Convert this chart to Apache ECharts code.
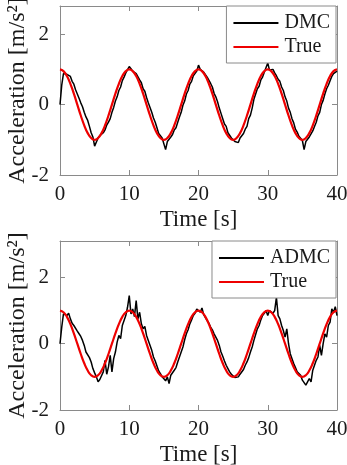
<!DOCTYPE html>
<html>
<head>
<meta charset="utf-8">
<title>DMC / ADMC acceleration</title>
<script src="https://cdn.jsdelivr.net/npm/echarts@6/dist/echarts.min.js"></script>
<style>
  html, body { margin: 0; padding: 0; background: #fff; }
  #chart { width: 347px; height: 465px; }
</style>
</head>
<body>
<div id="chart"></div>
<script>
/* =========================================
   1. DATA
   ========================================= */
// noisy estimates are sampled every 0.25 s, the true signal every 0.5 s
const ESTIMATE_STEP = 0.25;
const TRUE_STEP = 0.5;

const timeTicks = [0, 10, 20, 30, 40];
const accelTicks = [-2, 0, 2];

const dmcValues = [
  0.00, 0.55, 0.88, 0.93, 0.86, 0.90, 0.80, 0.66, 0.58, 0.42, 0.30, 0.18, 0.05, -0.06, -0.22, -0.35, -0.45, -0.62, -0.80, -0.92,
  -1.18, -1.22, -0.95, -0.88, -0.92, -0.80, -0.72, -0.58, -0.50, -0.40, -0.22, -0.08, 0.10, 0.22, 0.40, 0.50, 0.68, 0.78, 0.90, 0.92,
  1.08, 1.02, 0.95, 0.98, 0.88, 0.85, 0.70, 0.62, 0.45, 0.38, 0.20, 0.05, -0.08, -0.22, -0.38, -0.50, -0.66, -0.82, -0.85, -0.95,
  -0.90, -1.28, -1.05, -1.00, -0.92, -0.85, -0.72, -0.66, -0.50, -0.35, -0.22, -0.02, 0.10, 0.30, 0.40, 0.58, 0.66, 0.82, 0.85, 0.95,
  1.12, 1.00, 1.02, 0.92, 0.90, 0.78, 0.75, 0.60, 0.50, 0.32, 0.22, 0.08, -0.10, -0.25, -0.40, -0.55, -0.62, -0.80, -0.85, -0.95,
  -0.92, -1.05, -1.10, -1.08, -0.95, -0.90, -0.82, -0.70, -0.62, -0.40, -0.30, -0.10, 0.15, 0.30, 0.45, 0.52, 0.70, 0.78, 0.92, 0.95,
  1.18, 0.98, 0.95, 1.00, 0.90, 0.82, 0.72, 0.66, 0.50, 0.40, 0.22, 0.10, -0.10, -0.22, -0.40, -0.52, -0.70, -0.78, -0.90, -0.95,
  -1.02, -1.28, -1.05, -1.08, -0.92, -0.88, -0.75, -0.62, -0.50, -0.32, -0.22, 0.00, 0.12, 0.30, 0.45, 0.55, 0.68, 0.80, 0.88, 0.92,
  0.95
];

const admcValues = [
  0.00, 0.50, 0.90, 0.95, 0.85, 0.92, 0.75, 0.62, 0.55, 0.50, 0.38, 0.30, 0.22, 0.10, -0.05, -0.25, -0.30, -0.42, -0.55, -0.75,
  -0.88, -1.00, -1.15, -1.08, -1.12, -0.85, -0.50, -0.92, -0.70, -0.35, -0.85, -0.45, -0.25, 0.05, 0.25, 0.15, 0.55, 0.70, 0.85, 1.10,
  1.45, 0.90, 1.05, 0.82, 1.30, 0.75, 0.95, 0.60, 0.45, 0.52, 0.25, 0.10, 0.05, -0.20, -0.40, -0.52, -0.55, -0.82, -0.90, -1.00,
  -0.95, -1.12, -1.00, -1.20, -0.95, -0.92, -0.80, -0.72, -0.55, -0.40, -0.25, -0.10, 0.12, 0.30, 0.42, 0.60, 0.72, 0.85, 0.92, 1.05,
  1.10, 0.95, 1.08, 0.88, 0.85, 0.70, 0.62, 0.50, 0.42, 0.30, 0.25, 0.10, -0.05, -0.25, -0.38, -0.52, -0.65, -0.75, -0.85, -0.92,
  -0.98, -1.02, -1.05, -1.00, -0.92, -0.90, -0.78, -0.65, -0.55, -0.42, -0.25, -0.10, 0.10, 0.28, 0.45, 0.55, 0.72, 0.85, 0.92, 1.00,
  0.85, 1.00, 1.05, 0.92, 1.00, 1.40, 0.85, 0.75, 0.55, 0.40, 0.20, 0.45, 0.00, -0.30, -0.45, -0.60, -0.72, -0.85, -0.80, -0.95,
  -1.10, -1.05, -1.25, -1.15, -1.05, -1.15, -0.80, -0.65, -0.50, -0.40, -0.05, -0.35, 0.00, 0.30, 0.20, 0.55, 0.65, 1.05, 0.95, 1.12,
  0.85
];

const trueValues = [
  1.00, 0.95, 0.81, 0.59, 0.31, 0.00, -0.31, -0.59, -0.81, -0.95, -1.00, -0.95, -0.81, -0.59, -0.31, 0.00, 0.31, 0.59, 0.81, 0.95,
  1.00, 0.95, 0.81, 0.59, 0.31, 0.00, -0.31, -0.59, -0.81, -0.95, -1.00, -0.95, -0.81, -0.59, -0.31, 0.00, 0.31, 0.59, 0.81, 0.95,
  1.00, 0.95, 0.81, 0.59, 0.31, 0.00, -0.31, -0.59, -0.81, -0.95, -1.00, -0.95, -0.81, -0.59, -0.31, 0.00, 0.31, 0.59, 0.81, 0.95,
  1.00, 0.95, 0.81, 0.59, 0.31, 0.00, -0.31, -0.59, -0.81, -0.95, -1.00, -0.95, -0.81, -0.59, -0.31, 0.00, 0.31, 0.59, 0.81, 0.95,
  1.00
];

/* =========================================
   2. HELPERS
   ========================================= */
const FONT = "'Liberation Serif', 'Times New Roman', serif";
const FRAME = "#8a8a8a";

function toPairs(values, step) {
  return values.map((v, i) => [i * step, v]);
}

function xAxes(gridIndex, showName) {
  const base = {
    gridIndex: gridIndex,
    type: "value",
    min: timeTicks[0],
    max: timeTicks[timeTicks.length - 1],
    interval: 10,
    axisLine: { show: true, onZero: false, lineStyle: { color: FRAME, width: 1 } },
    axisTick: { show: true, inside: true, length: 5, lineStyle: { color: FRAME } },
    splitLine: { show: false },
  };
  return [
    Object.assign({}, base, {
      position: "bottom",
      axisLabel: { color: "#1a1a1a", fontFamily: FONT, fontSize: 21, margin: 9 },
      name: showName ? "Time [s]" : "",
      nameLocation: "middle",
      nameGap: 33,
      nameMoveOverlap: false,
      nameTextStyle: { color: "#1a1a1a", fontFamily: FONT, fontSize: 23 },
    }),
    Object.assign({}, base, { position: "top", axisLabel: { show: false } }),
  ];
}

function yAxes(gridIndex, yMax) {
  const base = {
    gridIndex: gridIndex,
    type: "value",
    min: accelTicks[0],
    max: yMax,
    interval: 2,
    axisLine: { show: true, onZero: false, lineStyle: { color: FRAME, width: 1 } },
    axisTick: { show: true, inside: true, length: 5, lineStyle: { color: FRAME } },
    splitLine: { show: false },
  };
  return [
    Object.assign({}, base, {
      position: "left",
      axisLabel: {
        color: "#1a1a1a", fontFamily: FONT, fontSize: 21, margin: 11,
        showMaxLabel: false,
        formatter: (v) => (accelTicks.indexOf(v) >= 0 ? String(v) : ""),
      },
      name: "Acceleration [m/s²]",
      nameLocation: "middle",
      nameGap: 30,
      nameMoveOverlap: false,
      nameTextStyle: { color: "#1a1a1a", fontFamily: FONT, fontSize: 24 },
    }),
    Object.assign({}, base, { position: "right", axisLabel: { show: false } }),
  ];
}

function legendBox(names, top) {
  return {
    data: names,
    orient: "vertical",
    right: 11,
    top: top,
    padding: [7, 6, 6, 7],
    itemGap: 4,
    itemWidth: 45,
    itemHeight: 2,
    icon: "rect",
    borderColor: FRAME,
    borderWidth: 1,
    backgroundColor: "#fff",
    textStyle: { color: "#1a1a1a", fontFamily: FONT, fontSize: 20, padding: [0, 0, 0, 1] },
  };
}

function lineSeries(name, data, axisOffset, color, width) {
  return {
    name: name,
    type: "line",
    xAxisIndex: axisOffset,
    yAxisIndex: axisOffset,
    data: data,
    symbol: "none",
    showSymbol: false,
    lineStyle: { color: color, width: width },
    itemStyle: { color: color },
  };
}

/* =========================================
   3. CHART
   ========================================= */
function initChart() {
  const dom = document.getElementById("chart");
  const chart = echarts.init(dom, null, { renderer: "canvas" });

  const option = {
    animation: false,
    backgroundColor: "#fff",
    grid: [
      { left: 60, right: 10, top: 6, height: 169, outerBoundsMode: "none", containLabel: false },
      { left: 60, right: 10, top: 241, height: 169, outerBoundsMode: "none", containLabel: false },
    ],
    xAxis: [].concat(xAxes(0, true), xAxes(1, true)),
    yAxis: [].concat(yAxes(0, 2.8), yAxes(1, 3.1)),
    legend: [legendBox(["DMC", "True"], 6), legendBox(["ADMC", "True"], 241)],
    series: [
      lineSeries("DMC", toPairs(dmcValues, ESTIMATE_STEP), 0, "#000", 1.5),
      Object.assign(lineSeries("True", toPairs(trueValues, TRUE_STEP), 0, "#ee0000", 2.2), { smooth: true }),
      lineSeries("ADMC", toPairs(admcValues, ESTIMATE_STEP), 2, "#000", 1.5),
      Object.assign(lineSeries("True", toPairs(trueValues, TRUE_STEP), 2, "#ee0000", 2.2), { smooth: true }),
    ],
  };

  chart.setOption(option);
}

document.addEventListener("DOMContentLoaded", initChart);
</script>
</body>
</html>
